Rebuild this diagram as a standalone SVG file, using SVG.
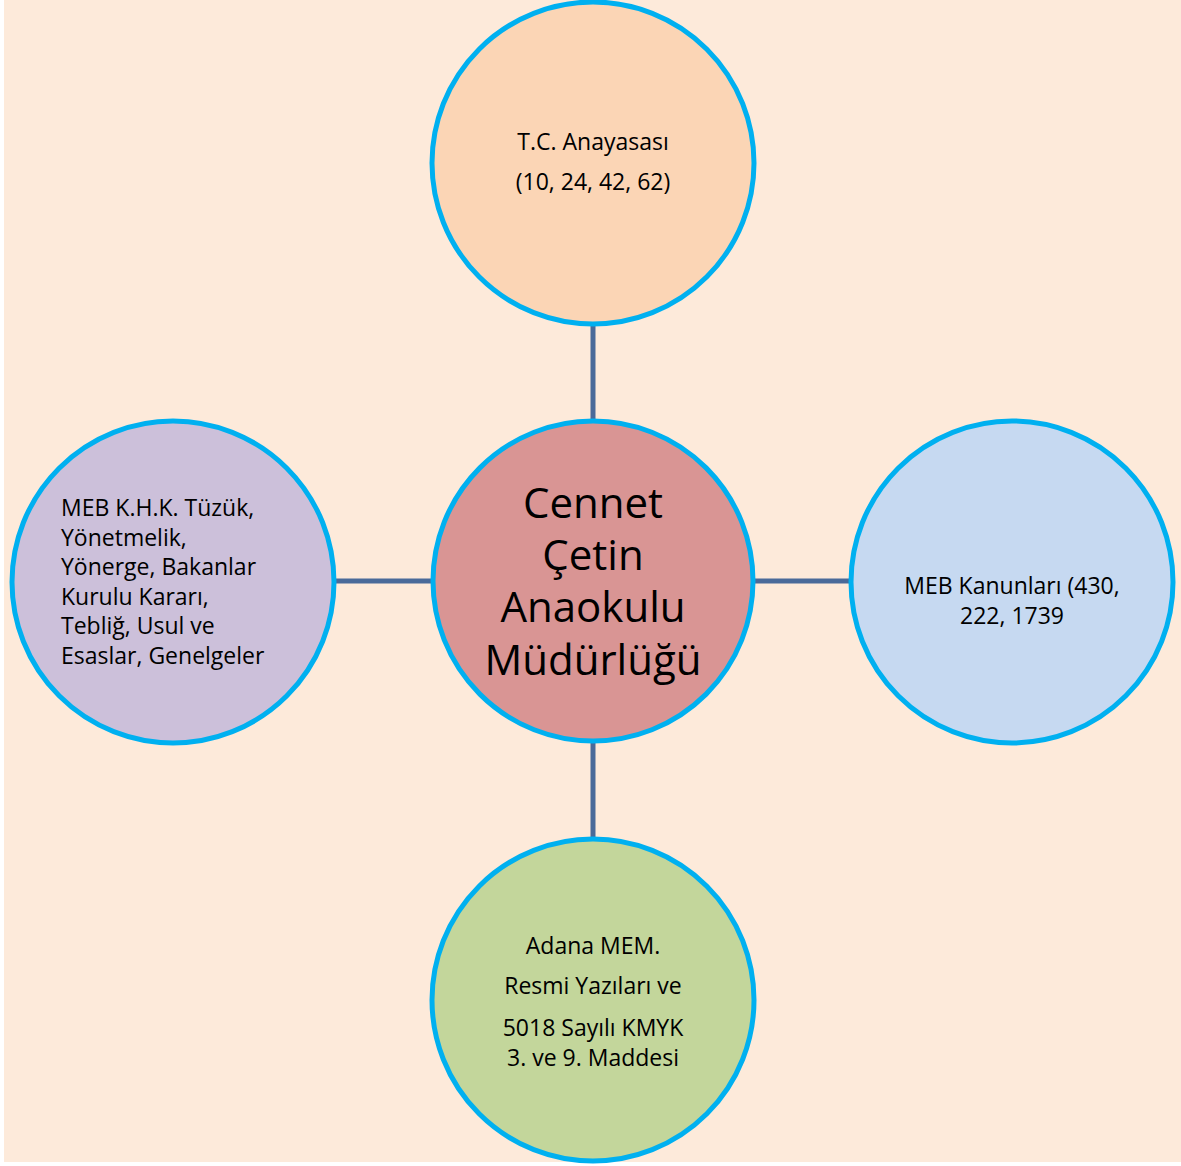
<svg xmlns="http://www.w3.org/2000/svg" width="1181" height="1166" viewBox="0 0 1181 1166">
<style>
.bg{fill:#FDEADA}
.node{stroke:#00B0F0;stroke-width:5}
.conn{stroke:#4A6A99;stroke-width:5;fill:none}
text{font-family:"Open Sans","Liberation Sans",Arial,sans-serif;fill:#000}
.s{font-size:23px}
.c{text-anchor:middle}
.big{font-size:42px;text-anchor:middle}
</style>
<rect x="0" y="0" width="1181" height="1166" fill="#FFFFFF"/>
<rect class="bg" x="4" y="0" width="1177" height="1162"/>
<g id="connectors">
<line class="conn" x1="593" y1="325" x2="593" y2="421"/>
<line class="conn" x1="336" y1="581" x2="433" y2="581"/>
<line class="conn" x1="753" y1="581" x2="850" y2="581"/>
<line class="conn" x1="593" y1="741" x2="593" y2="838"/>
</g>
<g id="node-top">
<circle class="node" cx="593" cy="163" r="161" fill="#FBD5B5"/>
<text class="s c" x="593" y="150">T.C. Anayasası</text>
<text class="s c" x="593" y="190">(10, 24, 42, 62)</text>
</g>
<g id="node-center">
<circle class="node" cx="593" cy="581" r="160" fill="#D99594"/>
<text class="big" x="593" y="518">Cennet</text>
<text class="big" x="593" y="570">Çetin</text>
<text class="big" x="593" y="622">Anaokulu</text>
<text class="big" x="593" y="675">Müdürlüğü</text>
</g>
<g id="node-left">
<circle class="node" cx="173" cy="582" r="161" fill="#CCC0DA"/>
<text class="s" x="61" y="516">MEB K.H.K. Tüzük,</text>
<text class="s" x="61" y="546">Yönetmelik,</text>
<text class="s" x="61" y="575">Yönerge, Bakanlar</text>
<text class="s" x="61" y="605">Kurulu Kararı,</text>
<text class="s" x="61" y="634">Tebliğ, Usul ve</text>
<text class="s" x="61" y="664">Esaslar, Genelgeler</text>
</g>
<g id="node-right">
<circle class="node" cx="1012" cy="582" r="161" fill="#C6D9F1"/>
<text class="s c" x="1012" y="594">MEB Kanunları (430,</text>
<text class="s c" x="1012" y="624">222, 1739</text>
</g>
<g id="node-bottom">
<circle class="node" cx="593" cy="1000" r="161" fill="#C3D69B"/>
<text class="s c" x="593" y="954">Adana MEM.</text>
<text class="s c" x="593" y="994">Resmi Yazıları ve</text>
<text class="s c" x="593" y="1036">5018 Sayılı KMYK</text>
<text class="s c" x="593" y="1066">3. ve 9. Maddesi</text>
</g>
</svg>
